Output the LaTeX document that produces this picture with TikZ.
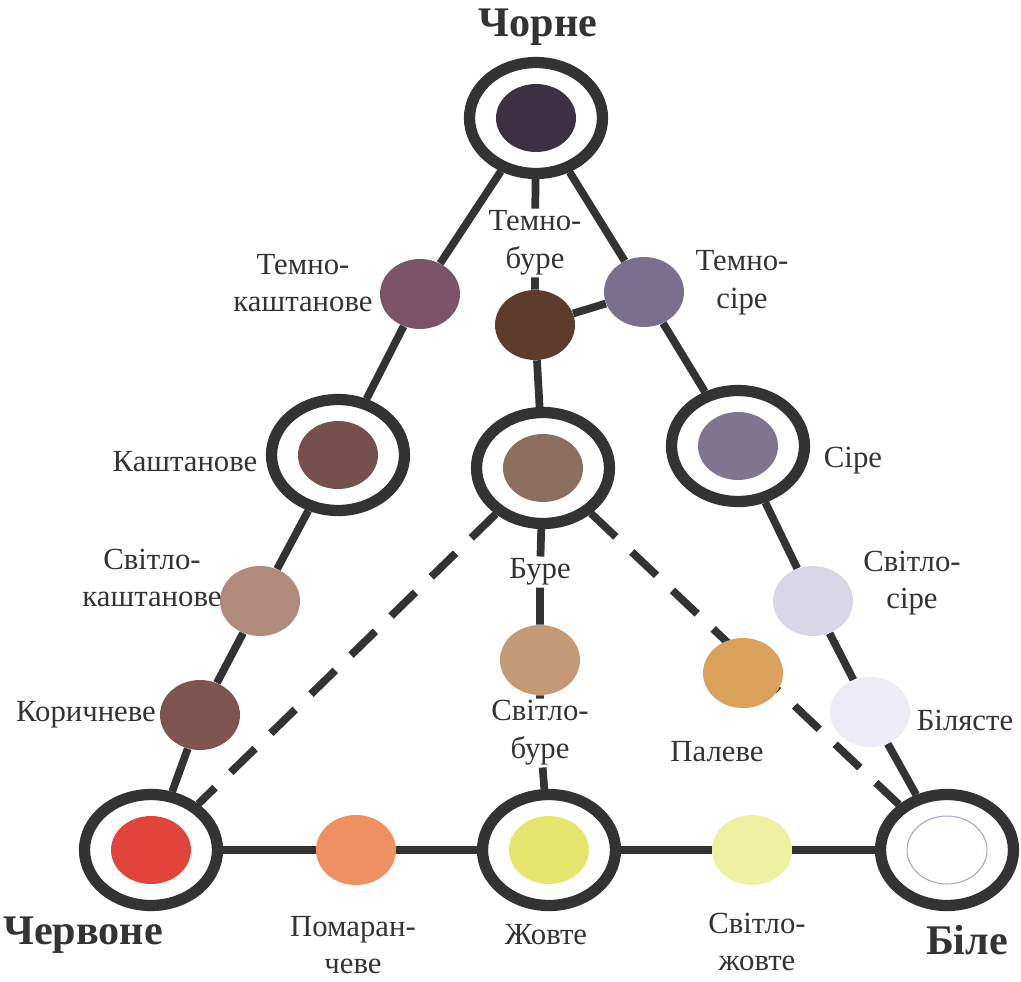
\documentclass[tikz,border=0pt]{standalone}
\usepackage{fontspec}
\setmainfont{Liberation Serif}
\usepackage{tikz}
\usetikzlibrary{shapes.geometric,backgrounds}

\definecolor{ink}{HTML}{333333}
\definecolor{cChorne}{HTML}{3B3142}
\definecolor{cTKasht}{HTML}{7B5468}
\definecolor{cTBure}{HTML}{5E3C2C}
\definecolor{cTSire}{HTML}{7A6E8E}
\definecolor{cKasht}{HTML}{76504F}
\definecolor{cBure}{HTML}{8C6E5E}
\definecolor{cSire}{HTML}{7F7590}
\definecolor{cSKasht}{HTML}{B08A7A}
\definecolor{cKoryc}{HTML}{7D5450}
\definecolor{cSBure}{HTML}{C49A76}
\definecolor{cPaleve}{HTML}{D9A15A}
\definecolor{cSSire}{HTML}{D9D6E6}
\definecolor{cBilyas}{HTML}{EDEBF5}
\definecolor{cCherv}{HTML}{E0443A}
\definecolor{cPomar}{HTML}{EE9060}
\definecolor{cZhovte}{HTML}{E5E66E}
\definecolor{cSZhovte}{HTML}{EEF0A2}
\definecolor{cBileRim}{HTML}{A8A6C8}

\begin{document}
\begin{tikzpicture}[x=0.02cm,y=-0.02cm,
 ring/.style={ellipse,draw=ink,line width=6.4pt,fill=white,minimum width=2.66cm,minimum height=2.22cm,inner sep=0pt},
 dot/.style={ellipse,fill=#1,minimum width=1.6cm,minimum height=1.4cm,inner sep=0pt},
 lab/.style={font=\fontsize{17.5}{21.5}\selectfont,text=ink,align=center,inner sep=1pt},
 big/.style={font=\fontsize{24}{28}\selectfont\bfseries,text=ink},
 link/.style={draw=ink,line width=4.4pt},
 dashlink/.style={link,dash pattern=on 0.68cm off 0.44cm}]
\useasboundingbox (0,0) rectangle (1021,981);
% basic colours in rings
\foreach \n/\x/\y/\c in {chorne/536/118/cChorne,kasht/338/455/cKasht,bure/543/468/cBure,
  sire/738/446/cSire,cherv/151/850/cCherv,zhovte/549/850/cZhovte}{
  \node[ring] (\n) at (\x,\y) {};
  \node[dot=\c,minimum height=1.36cm] (\n-in) at (\n) {};}
\node[ring] (bile) at (947,850) {};
\node[dot=white,draw=cBileRim,line width=0.6pt,minimum height=1.36cm] (bile-in) at (bile) {};
% intermediate shades
\foreach \n/\x/\y/\c in {tkasht/420/294/cTKasht,tbure/535/325/cTBure,tsire/644/292/cTSire,
  skasht/260/601/cSKasht,koryc/200/715/cKoryc,sbure/540/660/cSBure,paleve/743/673/cPaleve,
  ssire/813/601/cSSire,bilyas/870/712/cBilyas,pomar/356/850/cPomar,szhovte/752/850/cSZhovte}{
  \node[dot=\c] (\n) at (\x,\y) {};}
% labels
\node[big] (chorneL) at (538,27) {Чорне};
\node[big] (chervL) at (83,935) {Червоне};
\node[big] (bileL) at (967,940) {Біле};
\node[lab] (tkashtL) at (303,283) {Темно-\\каштанове};
\node[lab] (tbureL) at (535,243) {Темно-\\буре};
\node[lab] (tsireL) at (742,283) {Темно-\\сіре};
\node[lab] (kashtL) at (185,462) {Каштанове};
\node[lab] (skashtL) at (152,578) {Світло-\\каштанове};
\node[lab] (korycL) at (86,715) {Коричневе};
\node[lab] (sireL) at (853,461) {Сіре};
\node[lab] (bureL) at (540,572) {Буре};
\node[lab] (ssireL) at (912,583) {Світло-\\сіре};
\node[lab] (bilyasL) at (965,720) {Білясте};
\node[lab] (sbureL) at (540,733) {Світло-\\буре};
\node[lab] (paleveL) at (717,752) {Палеве};
\node[lab] (pomarL) at (353,945) {Помаран-\\чеве};
\node[lab] (zhovteL) at (546,935) {Жовте};
\node[lab] (szhovteL) at (757,942) {Світло-\\жовте};
% connectors
\begin{scope}[on background layer]
\draw[link] (chorne) -- (tkasht) -- (kasht) -- (skasht) -- (koryc) -- (cherv);
\draw[link] (chorne) -- (tsire) -- (sire) -- (ssire) -- (bilyas) -- (bile);
\draw[link] (cherv) -- (pomar) -- (zhovte) -- (szhovte) -- (bile);
\draw[link] (chorne) -- (tbureL) -- (tbure) -- (bure) -- (bureL) -- (sbure) -- (sbureL) -- (zhovte);
\draw[link] (tbure) -- (tsire);
\draw[dashlink] (bure) -- (cherv);
\draw[dashlink] (bure) -- (bile);
\end{scope}
\end{tikzpicture}
\end{document}
